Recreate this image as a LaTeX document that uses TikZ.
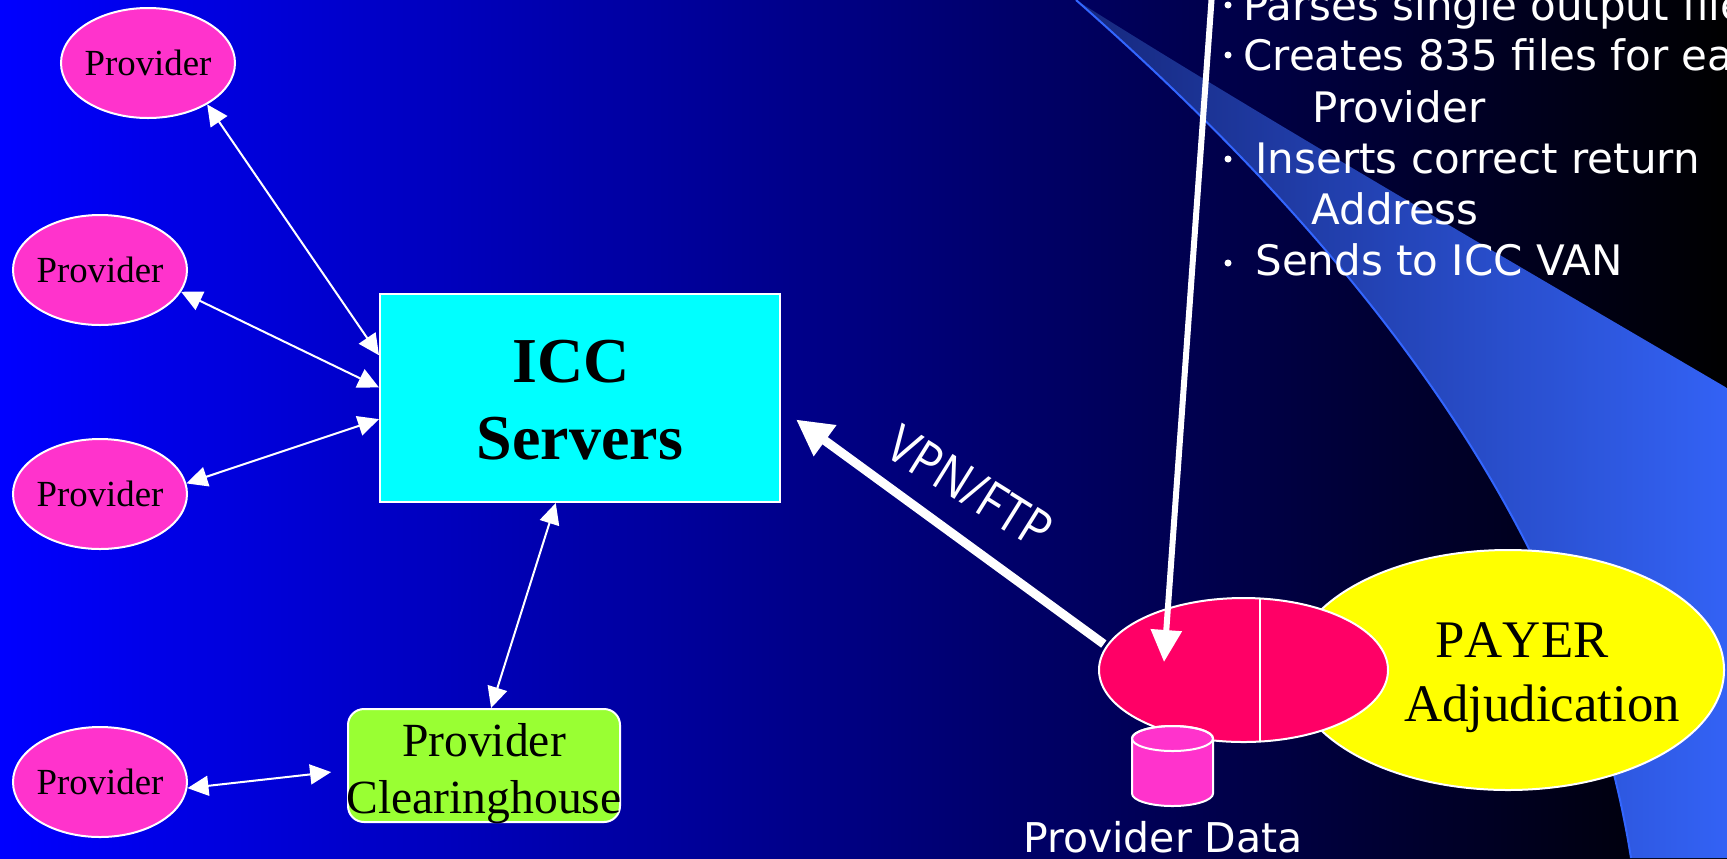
\documentclass[tikz,border=0pt]{standalone}
\usepackage{fontspec}
\setmainfont{Liberation Serif}
\setsansfont{DejaVu Sans}
\newfontfamily\vpnfont[FakeStretch=0.88]{Open Sans}
\usetikzlibrary{arrows.meta,shapes.geometric}

\definecolor{bgblue}{RGB}{0,0,255}
\definecolor{swooshdark}{RGB}{22,40,125}
\definecolor{swooshlight}{RGB}{51,98,245}
\definecolor{swooshedge}{RGB}{51,102,255}
\definecolor{pinkfill}{RGB}{255,51,204}
\definecolor{redfill}{RGB}{255,0,102}
\definecolor{limefill}{RGB}{153,255,51}
\definecolor{iccfill}{RGB}{0,255,255}
\definecolor{payerfill}{RGB}{255,255,0}

\tikzset{
	provider/.style={ellipse, draw=white, line width=1pt, fill=pinkfill, inner xsep=-1pt, inner ysep=0pt,
		minimum width=87pt, minimum height=55pt, font=\fontsize{18.4}{20}\selectfont},
	thinlink/.style={draw=white, line width=1pt, {Triangle[length=10.5pt,width=10pt]}-{Triangle[length=10.5pt,width=10pt]}},
	sanstext/.style={text=white, inner sep=0pt, font=\sffamily\fontsize{20.5}{24}\selectfont},
	listtext/.style={sanstext, anchor=base west, font=\sffamily\fontsize{21}{24}\selectfont},
	listdot/.style={circle, fill=white, inner sep=0pt, minimum size=3.5pt},
}

\begin{document}
\begin{tikzpicture}[x=0.5pt, y=-0.5pt]
	\useasboundingbox (0,0) rectangle (1727,858);
	\clip (0,0) rectangle (1727,858);

	%background
	\shade[left color=bgblue, right color=black] (0,0) rectangle (1727,858);
	\shade[left color=swooshdark, right color=swooshlight]
		(1076,0) .. controls (1250,110) and (1500,255) .. (1727,388) -- (1727,858) -- (1631,858)
		.. controls (1590,600) and (1440,320) .. (1076,0) -- cycle;
	\draw[swooshedge, line width=1pt] (1631,858) .. controls (1590,600) and (1440,320) .. (1076,0);

	%payer
	\node (payer) at (1508,670) [ellipse, draw=white, line width=1pt, fill=payerfill, inner sep=0pt, minimum width=216pt, minimum height=120pt]{};
	\node (payertext) at (1522,657) [anchor=base, inner sep=0pt, font=\fontsize{26.4}{30}\selectfont\addfontfeatures{Kerning=Off}]{PAYER};
	\node (adjtext) at (1542,721) [anchor=base, inner sep=0pt, font=\fontsize{26.4}{30}\selectfont]{Adjudication};
	\node (paydata) at (1243.5,670) [ellipse, draw=white, line width=1pt, fill=redfill, inner sep=0pt, minimum width=144.5pt, minimum height=72pt]{};
	\draw[white, line width=1pt] (1260,598) -- (1260,742);

	%servers and clearinghouse
	\node (icc) at (580,398) [draw=white, line width=1pt, fill=iccfill, inner sep=0pt, minimum width=200pt, minimum height=104pt]{};
	\node (icctext) at (580,400) [inner sep=0pt, align=center, font=\bfseries\fontsize{32}{38.5}\selectfont]{ICC\hspace*{9pt}\\Servers};
	\node (clearing) at (484,765.5) [draw=white, line width=1pt, fill=limefill, rounded corners=8pt, inner sep=0pt, minimum width=136pt, minimum height=56.5pt]{};
	\node (clearingtext) at (484,773.5) [inner sep=0pt, align=center, font=\fontsize{23.8}{28.5}\selectfont]{Provider\\Clearinghouse};

	\foreach \name/\x/\y in {provA/148/63, provB/100/270, provC/100/494, provD/100/782}{
		\node (\name) at (\x,\y) [provider]{Provider};
	}

	%links
	\draw[thinlink] (provA.-35.9) -- (icc.168.1);
	\draw[thinlink] (provB.-15) -- (icc.177.1);
	\draw[thinlink] (provC.7) -- (icc.186.8);
	\draw[thinlink, shorten >=8pt] (provD.-4.5) -- (clearing.182.7);
	\draw[thinlink] (icc.257.5) -- (clearing.83);

	\draw[-{Triangle[length=18pt,width=18pt]}, white, line width=4.5pt, shorten >=9.3pt, shorten <=1.5pt] (paydata.170.8) -- (icc.-3.7);
	\node (vpnlabel) at (960,503) [text=white, inner sep=0pt, anchor=base, rotate=-32, font=\vpnfont\fontsize{26}{30}\selectfont]{VPN/FTP};

	\coordinate (listtop) at (1211.5,0);
	\coordinate (filedrop) at (1164,662);
	\draw[-{Triangle[length=16pt,width=15pt]}, white, line width=3pt] (listtop) -- (filedrop);

	%provider data
	\draw[white, line width=1pt, fill=pinkfill] (1132,738.5) -- (1132,793.5) arc[start angle=180, end angle=360, x radius=20.25pt, y radius=6.25pt]
		-- (1213,738.5) arc[start angle=0, end angle=180, x radius=20.25pt, y radius=6.25pt] -- cycle;
	\draw[white, line width=1pt] (1172.5,738.5) ellipse [x radius=20.25pt, y radius=6.25pt];
	\node (dbaselabel) at (1163,852) [sanstext, anchor=base]{Provider Data};

	%list
	\node (lineA) at (1243,20) [listtext]{Parses single output file};
	\node (lineB) at (1243,70) [listtext]{Creates 835 files for each};
	\node (lineC) at (1312,122) [listtext]{Provider};
	\node (lineD) at (1255,173) [listtext]{Inserts correct return};
	\node (lineE) at (1311,224) [listtext]{Address};
	\node (lineF) at (1255,275) [listtext]{Sends to ICC VAN};
	\foreach \y in {5, 55, 159, 263}{
		\node at (1228,\y) [listdot]{};
	}
\end{tikzpicture}
\end{document}
